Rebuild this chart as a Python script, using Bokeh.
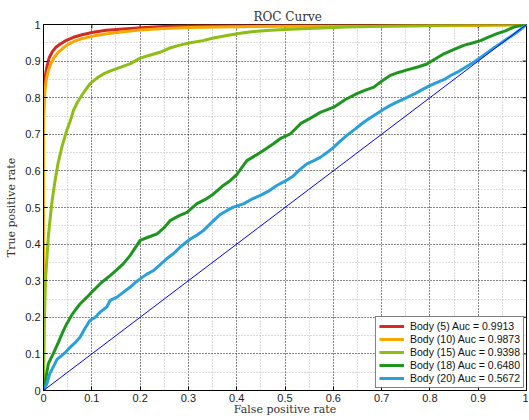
import math
from bokeh.plotting import figure
from bokeh.models import (Range1d, FixedTicker, CustomJSTickFormatter, Legend, LegendItem)
from bokeh.embed import file_html
from bokeh.resources import INLINE

# ---------------- data ----------------
red_fpr = [0, 0, 0.002, 0.005, 0.008, 0.012, 0.018, 0.025, 0.034, 0.045, 0.062, 0.08,
           0.103, 0.13, 0.165, 0.21, 0.27, 0.35, 0.45, 0.6, 0.8, 1.0]
red_tpr = [0, 0.80, 0.84, 0.87, 0.89, 0.91, 0.925, 0.937, 0.946, 0.955, 0.965, 0.972,
           0.979, 0.984, 0.988, 0.992, 0.996, 0.998, 0.999, 1.0, 1.0, 1.0]

orange_fpr = [0, 0, 0.001, 0.003, 0.006, 0.01, 0.016, 0.022, 0.03, 0.04, 0.05, 0.065,
              0.082, 0.105, 0.131, 0.165, 0.2, 0.25, 0.304, 0.4, 0.5, 0.7, 0.9, 1.0]
orange_tpr = [0, 0.72, 0.76, 0.82, 0.85, 0.874, 0.895, 0.91, 0.923, 0.935, 0.945, 0.955,
              0.962, 0.969, 0.975, 0.98, 0.985, 0.989, 0.992, 0.994, 0.995, 0.996, 0.997, 1.0]

lime_fpr = [0, 0.002, 0.004, 0.007, 0.01, 0.013, 0.018, 0.024, 0.03, 0.038, 0.048, 0.055,
            0.062, 0.07, 0.079, 0.088, 0.096, 0.11, 0.124, 0.14, 0.159, 0.18, 0.2, 0.22,
            0.241, 0.26, 0.28, 0.304, 0.33, 0.352, 0.38, 0.407, 0.435, 0.47, 0.511, 0.56,
            0.628, 0.7, 0.8, 0.9, 1.0]
lime_tpr = [0, 0.2, 0.3, 0.36, 0.42, 0.46, 0.52, 0.574, 0.62, 0.665, 0.71, 0.735,
            0.765, 0.787, 0.806, 0.823, 0.838, 0.853, 0.865, 0.874, 0.883, 0.893, 0.908, 0.916,
            0.924, 0.935, 0.943, 0.95, 0.956, 0.963, 0.97, 0.976, 0.981, 0.984, 0.987, 0.99,
            0.993, 0.995, 0.997, 0.999, 1.0]

green_fpr = [0, 0.005, 0.01, 0.02, 0.031, 0.04, 0.048, 0.058, 0.067, 0.076, 0.09, 0.103,
             0.12, 0.138, 0.152, 0.165, 0.18, 0.2, 0.215, 0.235, 0.25, 0.262, 0.28, 0.297,
             0.317, 0.335, 0.352, 0.37, 0.387, 0.4, 0.421, 0.44, 0.46, 0.476, 0.49, 0.511,
             0.532, 0.55, 0.573, 0.601, 0.625, 0.649, 0.665, 0.684, 0.7, 0.718, 0.735, 0.753,
             0.775, 0.794, 0.81, 0.829, 0.85, 0.87, 0.89, 0.905, 0.92, 0.939, 0.955, 0.974,
             0.988, 1.0]
green_tpr = [0, 0.035, 0.073, 0.1, 0.132, 0.16, 0.182, 0.205, 0.222, 0.237, 0.255, 0.273,
             0.295, 0.314, 0.33, 0.346, 0.37, 0.41, 0.418, 0.428, 0.445, 0.464, 0.477, 0.487,
             0.51, 0.522, 0.537, 0.558, 0.574, 0.59, 0.628, 0.643, 0.66, 0.674, 0.688, 0.701,
             0.729, 0.742, 0.76, 0.774, 0.795, 0.811, 0.82, 0.829, 0.845, 0.861, 0.869, 0.876,
             0.884, 0.892, 0.905, 0.92, 0.932, 0.943, 0.95, 0.956, 0.965, 0.975, 0.982, 0.993,
             0.997, 1.0]

blue_fpr = [0, 0.007, 0.013, 0.02, 0.028, 0.038, 0.046, 0.055, 0.065, 0.076, 0.086, 0.096,
            0.107, 0.117, 0.131, 0.138, 0.152, 0.165, 0.179, 0.19, 0.2, 0.214, 0.228, 0.24,
            0.255, 0.27, 0.283, 0.304, 0.318, 0.331, 0.352, 0.365, 0.38, 0.393, 0.414, 0.43,
            0.449, 0.465, 0.483, 0.5, 0.518, 0.53, 0.545, 0.56, 0.573, 0.587, 0.601, 0.615,
            0.628, 0.645, 0.663, 0.675, 0.69, 0.705, 0.718, 0.735, 0.753, 0.77, 0.787, 0.8,
            0.815, 0.83, 0.842, 0.86, 0.877, 0.89, 0.905, 0.918, 0.932, 0.946, 0.96, 0.975,
            0.988, 1.0]
blue_tpr = [0, 0.018, 0.046, 0.064, 0.085, 0.096, 0.105, 0.118, 0.13, 0.146, 0.17, 0.191,
            0.2, 0.214, 0.228, 0.246, 0.255, 0.268, 0.282, 0.295, 0.305, 0.318, 0.328, 0.342,
            0.36, 0.375, 0.392, 0.414, 0.425, 0.437, 0.464, 0.48, 0.492, 0.501, 0.51, 0.522,
            0.533, 0.544, 0.56, 0.572, 0.587, 0.603, 0.619, 0.628, 0.637, 0.65, 0.665, 0.682,
            0.697, 0.714, 0.733, 0.744, 0.756, 0.769, 0.779, 0.79, 0.801, 0.812, 0.824, 0.833,
            0.842, 0.85, 0.86, 0.872, 0.886, 0.896, 0.91, 0.922, 0.936, 0.948, 0.961, 0.974,
            0.987, 1.0]

chance_fpr = [0, 1]
chance_tpr = [0, 1]

series_labels = ["Body (5) Auc = 0.9913", "Body (10) Auc = 0.9873", "Body (15) Auc = 0.9398",
                 "Body (18) Auc = 0.6480", "Body (20) Auc = 0.5672"]
series_colors = ["#d42a20", "#f5a800", "#8dbe14", "#1e961e", "#2aa0da"]

major_ticks = [0, 0.1, 0.2, 0.3, 0.4, 0.5, 0.6, 0.7, 0.8, 0.9, 1.0]
minor_ticks = [0.05, 0.15, 0.25, 0.35, 0.45, 0.55, 0.65, 0.75, 0.85, 0.95]

# ---------------- figure ----------------
p = figure(width=528, height=418, output_backend="svg", toolbar_location=None,
           x_range=Range1d(0, 1), y_range=Range1d(0, 1),
           min_border_left=43, min_border_right=2, min_border_top=24, min_border_bottom=26,
           background_fill_color="white", border_fill_color="white")

p.title.text = "ROC Curve"
p.title.align = "left"
p.title.offset = 210
p.title.text_font = "DejaVu Serif"
p.title.text_font_size = "12px"
p.title.text_font_style = "normal"
p.title.text_color = "#333333"
p.title.standoff = 2

p.outline_line_color = "black"
p.outline_line_width = 1

fmt = CustomJSTickFormatter(code="var s = tick.toFixed(1); return s.replace(/\\.0$/, '');")

for ax in (p.xaxis[0], p.yaxis[0]):
    ax.ticker = FixedTicker(ticks=major_ticks, minor_ticks=minor_ticks)
    ax.formatter = fmt
    ax.major_tick_in = 4
    ax.major_tick_out = 0
    ax.minor_tick_in = 0
    ax.minor_tick_out = 0
    ax.axis_line_color = "black"
    ax.major_label_text_font = "Liberation Sans"
    ax.major_label_text_font_size = "11px"
    ax.major_label_text_color = "#222222"
    ax.axis_label_text_font = "DejaVu Serif"
    ax.axis_label_text_font_size = "11px"
    ax.axis_label_text_font_style = "normal"
    ax.axis_label_text_color = "#333333"

p.xaxis[0].major_label_standoff = 3
p.xaxis[0].axis_label_standoff = -2
p.yaxis[0].major_label_standoff = 3
p.yaxis[0].axis_label_standoff = 4
p.xaxis[0].axis_label = "False positive rate"
p.yaxis[0].axis_label = "True positive rate"

for g in (p.xgrid[0], p.ygrid[0]):
    g.ticker = FixedTicker(ticks=major_ticks, minor_ticks=minor_ticks)
    g.grid_line_color = "#111111"
    g.grid_line_dash = "1 2"
    g.grid_line_width = 1
    g.minor_grid_line_color = "#b8b8b8"
    g.minor_grid_line_dash = "1 2"
    g.minor_grid_line_width = 1

# inward ticks on the top and right edges of the box (clipped to the frame)
p.scatter(major_ticks, [1] * len(major_ticks), marker="dash", angle=math.pi / 2,
          size=8, line_color="black", line_width=1)
p.scatter([1] * len(major_ticks), major_ticks, marker="dash", angle=0,
          size=8, line_color="black", line_width=1)

xs = [red_fpr, orange_fpr, lime_fpr, green_fpr, blue_fpr]
ys = [red_tpr, orange_tpr, lime_tpr, green_tpr, blue_tpr]
renderers = []
for x, y, c in zip(xs, ys, series_colors):
    r = p.line(x, y, line_color=c, line_width=3, line_join="round")
    renderers.append(r)

p.line(chance_fpr, chance_tpr, line_color="#0000ff", line_width=1)

legend = Legend(items=[LegendItem(label=l, renderers=[r]) for l, r in zip(series_labels, renderers)],
                location="bottom_right")
legend.label_text_font = "Liberation Sans"
legend.label_text_font_size = "10.5px"
legend.label_text_color = "#111111"
legend.label_height = 12
legend.glyph_height = 12
legend.glyph_width = 25
legend.label_standoff = 6
legend.spacing = 1
legend.padding = 3
legend.margin = 2
legend.border_line_color = "black"
legend.border_line_width = 1
legend.background_fill_color = "white"
legend.background_fill_alpha = 1
p.add_layout(legend)

open("out.html", "w").write(file_html(p, INLINE))
